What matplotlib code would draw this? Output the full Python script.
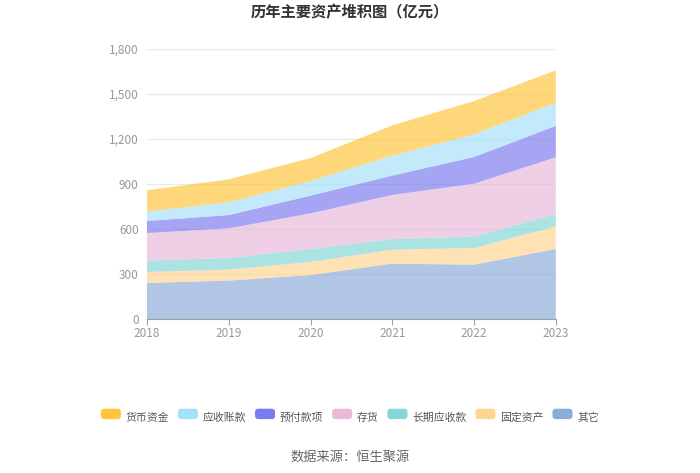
import numpy as np
import matplotlib.pyplot as plt
from matplotlib.patches import Patch, FancyBboxPatch
from matplotlib.legend_handler import HandlerPatch

plt.rcParams['font.family'] = ['Noto Sans CJK SC', 'DejaVu Sans']

years = ['2018', '2019', '2020', '2021', '2022', '2023']
# bottom to top in the stack
names = ['其它', '固定资产', '长期应收款', '存货', '预付款项', '应收账款', '货币资金']
other = [240, 256, 293, 369, 362, 467]
fixed_assets = [73, 73, 87, 93, 111, 151]
long_recv = [76, 78, 87, 71, 76, 82]
inventory = [184, 197, 237, 294, 353, 378]
prepaid = [80, 89, 118, 129, 178, 209]
receivable = [63, 85, 98, 133, 151, 155]
cash = [142, 153, 153, 202, 222, 216]
colors = ['#8BABD8', '#FFD591', '#84D7D7', '#E8B9D9', '#7B7BF0', '#A6E0FA', '#FFC53D']

series = [other, fixed_assets, long_recv, inventory, prepaid, receivable, cash]


class RoundBox(HandlerPatch):
    # rounded legend swatch
    def create_artists(self, legend, orig, xd, yd, w, h, fontsize, trans):
        p = FancyBboxPatch((xd, yd), w, h, boxstyle='round,pad=0,rounding_size=2.5',
                           facecolor=orig.get_facecolor(), edgecolor='none',
                           transform=trans)
        return [p]


fig = plt.figure(figsize=(7, 4.73), dpi=100)
ax = fig.add_axes([0.21, 0.3256, 0.584, 0.5708])

x = np.arange(len(years))
ax.stackplot(x, *series, colors=colors, alpha=0.68, linewidth=0)

ax.set_xlim(0, len(years) - 1)
ax.set_ylim(0, 1800)
ax.set_yticks(range(0, 1801, 300))
ax.set_yticklabels(['{:,}'.format(v) for v in range(0, 1801, 300)])
ax.set_xticks(x)
ax.set_xticklabels(years)
ax.grid(axis='y', color='#E9E9EE', linewidth=1)
ax.set_axisbelow(True)
for s in ['top', 'right', 'left']:
    ax.spines[s].set_visible(False)
ax.spines['bottom'].set_color('#A0A0A0')
ax.tick_params(axis='y', length=0, colors='#999999', labelsize=8.5, pad=6)
ax.tick_params(axis='x', length=4, color='#A0A0A0', colors='#999999', labelsize=8.5, pad=2)

fig.text(0.5, 0.974, '历年主要资产堆积图（亿元）', ha='center', va='center',
         fontsize=11, fontweight='bold', color='#333333')

# legend: top of stack first
handles = [Patch(facecolor=c, edgecolor='none') for c in colors[::-1]]
leg = fig.legend(handles, names[::-1], loc='center', bbox_to_anchor=(0.5, 0.118),
                 ncol=7, frameon=False, fontsize=7.8, handlelength=1.85,
                 handleheight=1.1, columnspacing=0.8, handletextpad=0.45,
                 handler_map={Patch: RoundBox()})
for t in leg.get_texts():
    t.set_color('#555555')

fig.text(0.5, 0.034, '数据来源：恒生聚源', ha='center', va='center',
         fontsize=9.5, color='#666666')

fig.savefig('out.png', dpi=100)
